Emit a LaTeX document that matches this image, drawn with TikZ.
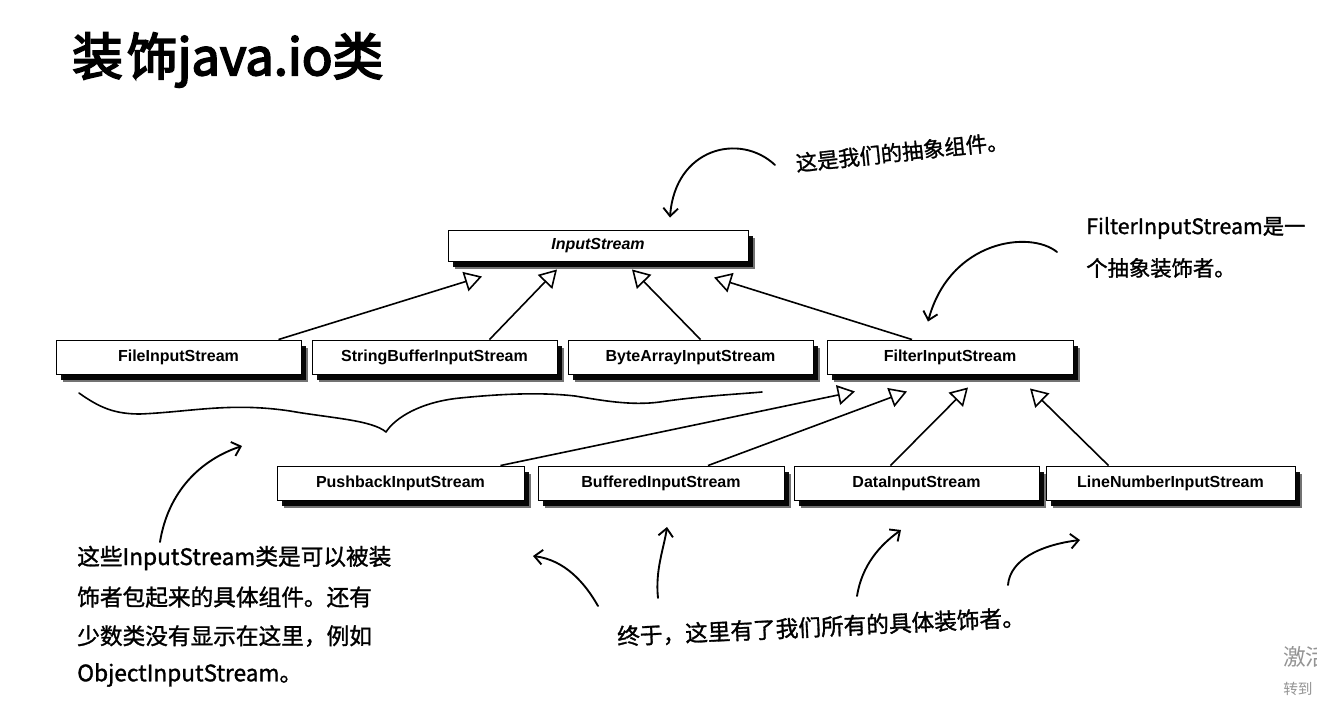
\documentclass[tikz,border=0pt]{standalone}
\usepackage{fontspec}
\setmainfont{Liberation Sans}
\newfontfamily\cjk[AutoFakeBold=3.5]{Noto Sans CJK SC}
\newfontfamily\hand[FakeBold=1.3]{Noto Sans CJK SC}
\newfontfamily\plaincjk{Noto Sans CJK SC}
\usetikzlibrary{arrows.meta,shadows,calc}
\tikzset{
  cls/.style={draw, line width=0.7pt, fill=white, minimum width=245*0.75pt,
    minimum height=34*0.75pt, inner sep=0pt, text height=8.8pt, text depth=2.4pt,
    font=\fontsize{12}{14}\selectfont\bfseries,
    drop shadow={shadow xshift=5.2pt, shadow yshift=-6.2pt, opacity=0.55, fill=black},
    drop shadow={shadow xshift=3.8pt, shadow yshift=-4.6pt, opacity=0.95, fill=black}},
  gen/.style={line width=1.2pt, -{Triangle[open,length=13pt,width=15pt,line width=1.2pt]}},
  note/.style={line width=1.4pt, line cap=round,
    -{Straight Barb[length=6pt,width=11pt,line width=1.4pt]}},
  hw/.style={font=\hand\fontsize{16}{20}\selectfont, inner sep=0pt},
  hwl/.style={font=\hand\fontsize{17}{20}\selectfont, inner sep=0pt},
  brace/.style={line width=1.2pt, line cap=round, line join=round},
}
\begin{document}
\begin{tikzpicture}[x=0.75pt,y=-0.75pt]
\useasboundingbox (0,0) rectangle (1317,703);

% title
\node[anchor=west, inner sep=0pt, font=\cjk\bfseries\fontsize{38}{42}\selectfont] (title) at (72,60) {装\hspace{3pt}饰java.io类};

% class boxes
\node[cls, minimum width=300*0.75pt, minimum height=31*0.75pt,
      font=\fontsize{12}{14}\selectfont\bfseries\itshape] (IS) at (598,245.5) {InputStream};
\node[cls] (FIS)  at (178.5,357) {FileInputStream};
\node[cls] (SBIS) at (434.5,357) {StringBufferInputStream};
\node[cls] (BAIS) at (690.5,357) {ByteArrayInputStream};
\node[cls, minimum width=246*0.75pt] (FilIS) at (950,357) {FilterInputStream};
\node[cls, minimum width=247*0.75pt] (PBIS) at (400.5,483) {PushbackInputStream};
\node[cls, minimum width=246*0.75pt] (BIS)  at (661,483) {BufferedInputStream};
\node[cls] (DIS)  at (916.5,483) {DataInputStream};
\node[cls, minimum width=249*0.75pt] (LNIS) at (1170.5,483) {LineNumberInputStream};

% generalisations to InputStream
\draw[gen] ($(FIS.north)+(100,0)$)  -- ($(IS.south)+(-116,15)$);
\draw[gen] ($(SBIS.north)+(55,0)$)  -- ($(IS.south)+(-41,8)$);
\draw[gen] ($(BAIS.north)+(10,0)$)  -- ($(IS.south)+(34,8)$);
\draw[gen] ($(FilIS.north)+(-38,0)$) -- ($(IS.south)+(116,16)$);

% generalisations to FilterInputStream
\draw[gen] ($(PBIS.north)+(100,0)$) -- ($(FilIS.south)+(-95,17)$);
\draw[gen] ($(BIS.north)+(47,0)$)   -- ($(FilIS.south)+(-43,17)$);
\draw[gen] ($(DIS.north)+(-26,0)$)  -- ($(FilIS.south)+(18,13)$);
\draw[gen] ($(LNIS.north)+(-62,0)$) -- ($(FilIS.south)+(80,14)$);

% brace under concrete components
\draw[brace] (79,393) .. controls (100,408) and (115,414) .. (140,414)
  .. controls (190,412) and (230,402) .. (290,411)
  .. controls (330,418) and (372,420) .. (386,432)
  .. controls (395,418) and (420,402) .. (460,398)
  .. controls (500,394) and (540,392) .. (575,396)
  .. controls (600,400) and (630,406) .. (660,402)
  .. controls (700,396) and (740,394) .. (762,392);

% annotation: abstract component
\node[hw, rotate=6] (t1) at (902,152) {这是我们的抽象组件。};
\coordinate (t1s) at (775,165);
\draw[note] (t1s) .. controls (740,132) and (675,148) .. ($(IS.north)+(72,-12)$);

% annotation: abstract decorator
\node[hw, anchor=west] (t2a) at (1086,228) {FilterInputStream是一};
\node[hw, anchor=west] (t2b) at (1086,268) {个抽象装饰者。};
\coordinate (t2s) at (1057,252);
\draw[note] (t2s) .. controls (1030,230) and (950,240) .. ($(FilIS.north)+(-22,-18)$);

% annotation: concrete components
\node[hwl, anchor=west] (t3a) at (77,558) {这些InputStream类是可以被装};
\node[hwl, anchor=west] (t3b) at (77,597) {饰者包起来的具体组件。还有};
\node[hwl, anchor=west] (t3c) at (77,636) {少数类没有显示在这里，例如};
\node[hwl, anchor=west] (t3d) at (77,675) {ObjectInputStream。};
\coordinate (t3s) at (160,542);
\coordinate (t3e) at (242,446);
\draw[note] (t3s) .. controls (168,492) and (200,460) .. (t3e);

% annotation: concrete decorators
\node[hwl, rotate=2.7] (t4) at (821,627) {终于，这里有了我们所有的具体装饰者。};
\coordinate (a1s) at (598,606);  \coordinate (a1e) at (533,556);
\coordinate (a2s) at (658,598);  \coordinate (a2e) at (667,527);
\coordinate (a3s) at (857,596);  \coordinate (a3e) at (901,530);
\coordinate (a4s) at (1008,585); \coordinate (a4e) at (1080,540);
\draw[note] (a1s) .. controls (585,583) and (565,560) .. (a1e);
\draw[note] (a2s) .. controls (655,570) and (664,548) .. (a2e);
\draw[note] (a3s) .. controls (862,565) and (880,545) .. (a3e);
\draw[note] (a4s) .. controls (1010,560) and (1040,545) .. (a4e);

% cropped watermark
\begin{scope}
\clip (0,0) rectangle (1317,703);
\node[anchor=west, inner sep=0pt, text=black!42, font=\plaincjk\fontsize{17}{20}\selectfont] (wm1) at (1283,657) {激活 Windows};
\node[anchor=west, inner sep=0pt, text=black!42, font=\plaincjk\fontsize{11}{13}\selectfont] (wm2) at (1283,689) {转到“设置”以激活 Windows。};
\end{scope}
\end{tikzpicture}
\end{document}
